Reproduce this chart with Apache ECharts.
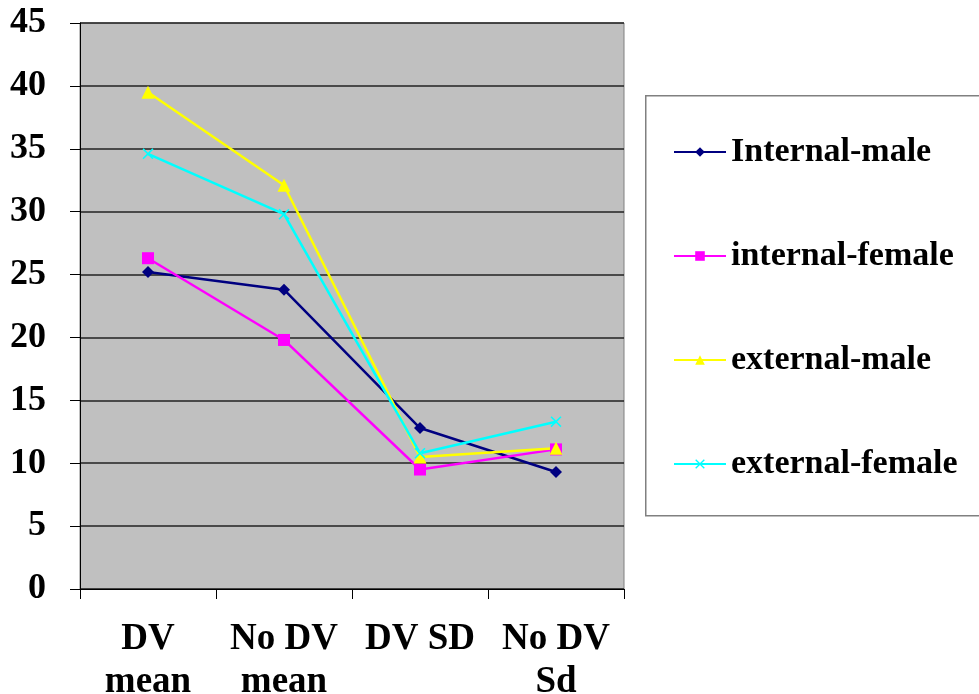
<!DOCTYPE html>
<html>
<head>
    <meta charset="utf-8">
    <script type="text/javascript" src="https://cdn.jsdelivr.net/npm/echarts@6/dist/echarts.min.js"></script>
    <style>
        html, body { margin: 0; padding: 0; background: #fff; }
    </style>
</head>
<body>
<div id="main" style="width:979px;height:694px;"></div>

<script type="text/javascript">
    // categories along the x axis
    var categories = ['DV\nmean', 'No DV\nmean', 'DV SD', 'No DV\nSd'];
    // series values
    var internalMale = [25.2, 23.8, 12.8, 9.3];
    var internalFemale = [26.3, 19.8, 9.5, 11.1];
    var externalMale = [39.5, 32.1, 10.5, 11.2];
    var externalFemale = [34.6, 29.8, 10.8, 13.3];

    var serif = '"Liberation Serif", "Times New Roman", serif';
    // x marker, drawn as a thin filled cross
    var crossSymbol = 'path://M0,1L1,0L5,4L9,0L10,1L6,5L10,9L9,10L5,6L1,10L0,9L4,5Z';

    function makeSeries(name, data, color, symbol, size) {
        return {
            name: name,
            type: 'line',
            data: data,
            symbol: symbol,
            symbolSize: size,
            showAllSymbol: true,
            lineStyle: { color: color, width: 2.5 },
            itemStyle: { color: color },
            emphasis: { disabled: true },
            animation: false
        };
    }

    var myChart = echarts.init(document.getElementById('main'));
    var option = {
        backgroundColor: '#fff',
        animation: false,
        grid: {
            left: 80,
            right: 355,
            top: 23,
            bottom: 105,
            containLabel: false,
            outerBoundsMode: 'none',
            show: true,
            backgroundColor: '#c0c0c0',
            borderColor: '#808080',
            borderWidth: 1
        },
        graphic: [{
            type: 'rect',
            left: 645,
            top: 95,
            shape: { width: 340, height: 420 },
            style: { fill: '#fff', stroke: '#808080', lineWidth: 1.5 },
            z: -1
        }],
        legend: {
            orient: 'vertical',
            left: 673,
            top: 132,
            padding: 0,
            itemWidth: 52,
            itemHeight: 12,
            itemGap: 64,
            textStyle: {
                fontFamily: serif,
                fontWeight: 'bold',
                fontSize: 34,
                lineHeight: 40,
                color: '#000'
            },
            selectedMode: false
        },
        xAxis: {
            type: 'category',
            data: categories,
            boundaryGap: true,
            axisLine: { lineStyle: { color: '#000', width: 1 } },
            axisTick: { show: true, length: 10, interval: 0, lineStyle: { color: '#000' } },
            axisLabel: {
                interval: 0,
                hideOverlap: false,
                margin: 29,
                fontFamily: serif,
                fontWeight: 'bold',
                fontSize: 37,
                color: '#000',
                lineHeight: 43
            }
        },
        yAxis: {
            type: 'value',
            min: 0,
            max: 45,
            interval: 5,
            axisLine: { show: true, lineStyle: { color: '#000', width: 1 } },
            axisTick: { show: true, length: 10, lineStyle: { color: '#000' } },
            axisLabel: {
                margin: 34,
                fontFamily: serif,
                fontWeight: 'bold',
                fontSize: 36,
                color: '#000'
            },
            splitLine: { show: true, lineStyle: { color: '#222', width: 1.5 } }
        },
        series: [
            makeSeries('Internal-male', internalMale, '#000080', 'diamond', 12),
            makeSeries('internal-female', internalFemale, '#ff00ff', 'rect', 12),
            makeSeries('external-male', externalMale, '#ffff00', 'triangle', 13),
            makeSeries('external-female', externalFemale, '#00ffff', crossSymbol, 11)
        ]
    };
    myChart.setOption(option);
</script>
</body>
</html>
